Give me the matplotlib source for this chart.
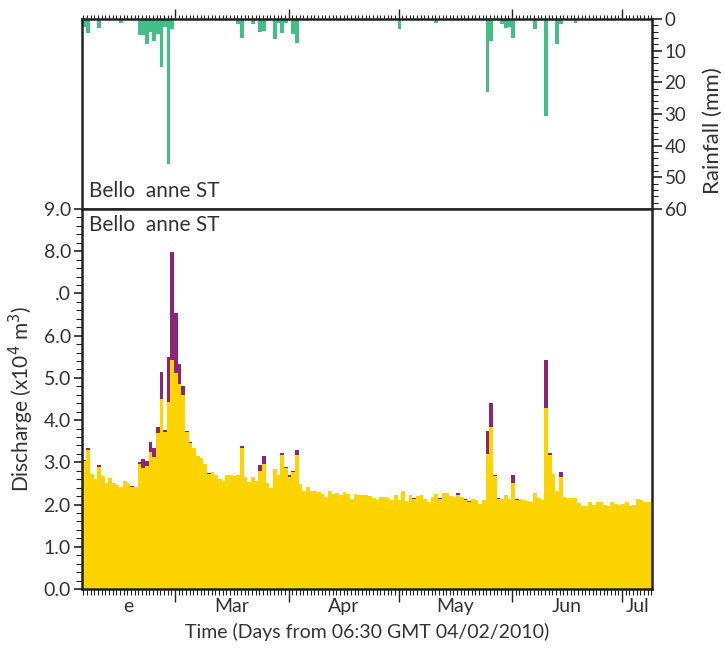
import matplotlib
matplotlib.use('Agg')
import matplotlib.pyplot as plt
from matplotlib.ticker import FixedLocator, MultipleLocator, NullFormatter
import numpy as np

plt.rcParams['font.family'] = ['Lato', 'DejaVu Sans']
plt.rcParams['text.color'] = '#333333'
plt.rcParams['axes.labelcolor'] = '#333333'
plt.rcParams['xtick.color'] = '#222222'
plt.rcParams['ytick.color'] = '#222222'
plt.rcParams['xtick.labelcolor'] = '#333333'
plt.rcParams['ytick.labelcolor'] = '#333333'

# one bar per day, days counted from 06:30 GMT 04/02/2010
days = np.arange(155)

# base flow (x10^4 m3), yellow part of each bar
base_flow = [
    3.02, 3.29, 2.73, 2.61, 2.90, 2.68, 2.51, 2.63, 2.51, 2.46,
    2.42, 2.56, 2.51, 2.42, 2.42, 2.96, 2.87, 2.91, 3.25, 3.13,
    3.70, 4.50, 3.72, 4.43, 5.43, 5.12, 4.86, 4.60, 3.71, 3.46,
    3.34, 3.15, 3.10, 2.96, 2.73, 2.77, 2.70, 2.61, 2.56, 2.70,
    2.70, 2.68, 2.70, 3.34, 2.65, 2.54, 2.65, 2.56, 2.80, 2.96,
    2.51, 2.39, 2.84, 2.70, 3.18, 2.87, 2.65, 2.77, 3.18, 2.49,
    2.32, 2.42, 2.32, 2.32, 2.30, 2.25, 2.18, 2.32, 2.25, 2.27,
    2.23, 2.30, 2.25, 2.13, 2.25, 2.23, 2.23, 2.23, 2.20, 2.16,
    2.11, 2.18, 2.18, 2.16, 2.11, 2.23, 2.11, 2.32, 2.09, 2.23,
    2.13, 2.20, 2.23, 2.13, 2.06, 2.18, 2.25, 2.13, 2.27, 2.27,
    2.20, 2.18, 2.23, 2.18, 2.11, 2.06, 2.13, 2.11, 2.01, 2.11,
    3.20, 3.84, 2.68, 2.13, 2.13, 2.23, 2.13, 2.51, 2.11, 2.13,
    2.11, 2.09, 2.06, 2.27, 2.16, 2.11, 4.29, 3.18, 2.73, 2.32,
    2.65, 2.18, 2.16, 2.16, 2.16, 2.04, 1.97, 1.97, 2.06, 1.99,
    2.06, 2.06, 1.99, 1.97, 2.06, 2.01, 1.99, 2.01, 2.06, 1.97,
    1.99, 2.13, 2.11, 2.06, 2.06,
]

# quick flow on top of the base flow (purple)
quick_day = [0, 1, 4, 13, 15, 16, 17, 18, 19, 20, 21, 22, 23, 24, 25, 26, 27, 28, 29, 34,
             43, 48, 49, 54, 55, 56, 57, 58, 90, 97, 102, 104, 105, 110, 111, 112, 113,
             117, 118, 126, 127, 130]
quick_flow = [0.04, 0.05, 0.03, 0.02, 0.05, 0.21, 0.12, 0.23, 0.21, 0.14, 0.64, 0.04, 1.07,
              2.56, 1.42, 0.47, 0.21, 0.03, 0.02, 0.02, 0.05, 0.14, 0.19, 0.04, 0.02, 0.05,
              0.03, 0.11, 0.03, 0.03, 0.04, 0.02, 0.03, 0.54, 0.57, 0.02, 0.03, 0.19, 0.02,
              1.14, 0.04, 0.12]

# daily rainfall (mm)
rain_day = [0, 1, 4, 10, 15, 16, 17, 18, 19, 20, 21, 22, 23, 24, 42, 43, 46, 48, 49, 50,
            52, 53, 54, 55, 57, 58, 61, 86, 96, 110, 111, 113, 114, 115, 116, 117, 123,
            126, 129, 130, 134]
rain_mm = [2.5, 4.4, 2.8, 1.3, 5.0, 5.0, 7.9, 4.1, 6.9, 4.7, 15.0, 2.5, 45.7, 3.2, 1.6, 6.0,
           1.6, 4.1, 3.8, 0.5, 6.3, 1.3, 4.4, 1.3, 4.7, 7.6, 0.4, 3.2, 1.3, 23.0, 6.9, 0.7,
           1.6, 2.8, 2.5, 6.0, 3.2, 30.6, 7.9, 1.6, 1.3]

# month starts (Mar 1 .. Jul 1) in days, and label positions
month_starts = [24.729, 55.729, 85.729, 116.729, 146.729]
month_label_pos = [12.0, 40.2, 70.7, 101.2, 131.7, 151.0]
month_labels = ['e', 'Mar', 'Apr', 'May', 'Jun', 'Jul']

quick = np.zeros(len(days))
quick[quick_day] = quick_flow
rain = np.zeros(len(days))
rain[rain_day] = rain_mm

YELLOW = '#FDD300'
PURPLE = '#8C2573'
GREEN = '#43BE87'
SPINE = '#222222'

fig = plt.figure(figsize=(7.25, 6.49), dpi=100)
ax_r = fig.add_axes([82 / 725, 1 - 209 / 649, 570 / 725, 190 / 649])
ax = fig.add_axes([82 / 725, 1 - 589 / 649, 570 / 725, 380 / 649])

xmin, xmax = -0.65, 154.9
daily = np.arange(-0.271, 156, 1)

# rainfall panel
ax_r.bar(days, rain, width=1.0, color=GREEN, linewidth=0)
ax_r.set_ylim(60, 0)
ax_r.set_xlim(xmin, xmax)
ax_r.yaxis.tick_right()
ax_r.yaxis.set_label_position('right')
ax_r.yaxis.set_major_locator(MultipleLocator(10))
ax_r.yaxis.set_minor_locator(MultipleLocator(2))
ax_r.set_ylabel('Rainfall (mm)', fontsize=16)
ax_r.yaxis.set_label_coords(1.090, 0.41)
ax_r.xaxis.tick_top()
ax_r.xaxis.set_major_locator(FixedLocator(month_starts))
ax_r.xaxis.set_minor_locator(FixedLocator(daily))
ax_r.xaxis.set_major_formatter(NullFormatter())
ax_r.tick_params(axis='x', which='major', direction='out', length=7, width=1.0)
ax_r.tick_params(axis='x', which='minor', direction='out', length=3, width=0.8)
ax_r.tick_params(axis='y', which='major', direction='out', length=7, width=1.2,
                 labelsize=13.5, pad=2)
ax_r.tick_params(axis='y', which='minor', direction='out', length=4, width=0.8)
ax_r.text(0.012, 0.04, 'Bello  anne ST', transform=ax_r.transAxes, fontsize=15,
          ha='left', va='bottom')

# discharge panel
ax.bar(days, base_flow, width=1.0, color=YELLOW, linewidth=0)
ax.bar(days, quick, width=1.0, bottom=base_flow, color=PURPLE, linewidth=0)
ax.set_xlim(xmin, xmax)
ax.set_ylim(0, 9)
ax.yaxis.set_major_locator(MultipleLocator(1))
ax.yaxis.set_minor_locator(MultipleLocator(0.2))
ax.set_yticks(np.arange(0, 9.5, 1))
ax.set_yticklabels(['0.0', '1.0', '2.0', '3.0', '4.0', '5.0', '6.0', '.0', '8.0', '9.0'])
ax.xaxis.set_major_locator(FixedLocator(month_starts))
ax.xaxis.set_minor_locator(FixedLocator(daily))
ax.xaxis.set_major_formatter(NullFormatter())
ax.tick_params(axis='x', which='major', direction='out', length=9, width=1.0)
ax.tick_params(axis='x', which='minor', direction='out', length=4, width=0.8)
ax.tick_params(axis='y', which='major', direction='out', length=6, width=1.2,
               labelsize=14, pad=2)
ax.tick_params(axis='y', which='minor', direction='out', length=4, width=0.8)
for pos, lab in zip(month_label_pos, month_labels):
    ax.text(pos, -0.047, lab, transform=ax.get_xaxis_transform(), fontsize=14,
            ha='center', va='center')
ax.set_xlabel('Time (Days from 06:30 GMT 04/02/2010)', fontsize=14, labelpad=12)
ax.set_ylabel('Discharge (x10$^4$ m$^3$)', fontsize=15)
ax.yaxis.set_label_coords(-0.081, 0.5)
ax.text(0.012, 0.985, 'Bello  anne ST', transform=ax.transAxes, fontsize=15,
        ha='left', va='top')

for a in (ax, ax_r):
    for s in a.spines.values():
        s.set_linewidth(1.8)
        s.set_color(SPINE)

fig.savefig('out.png', dpi=100)
